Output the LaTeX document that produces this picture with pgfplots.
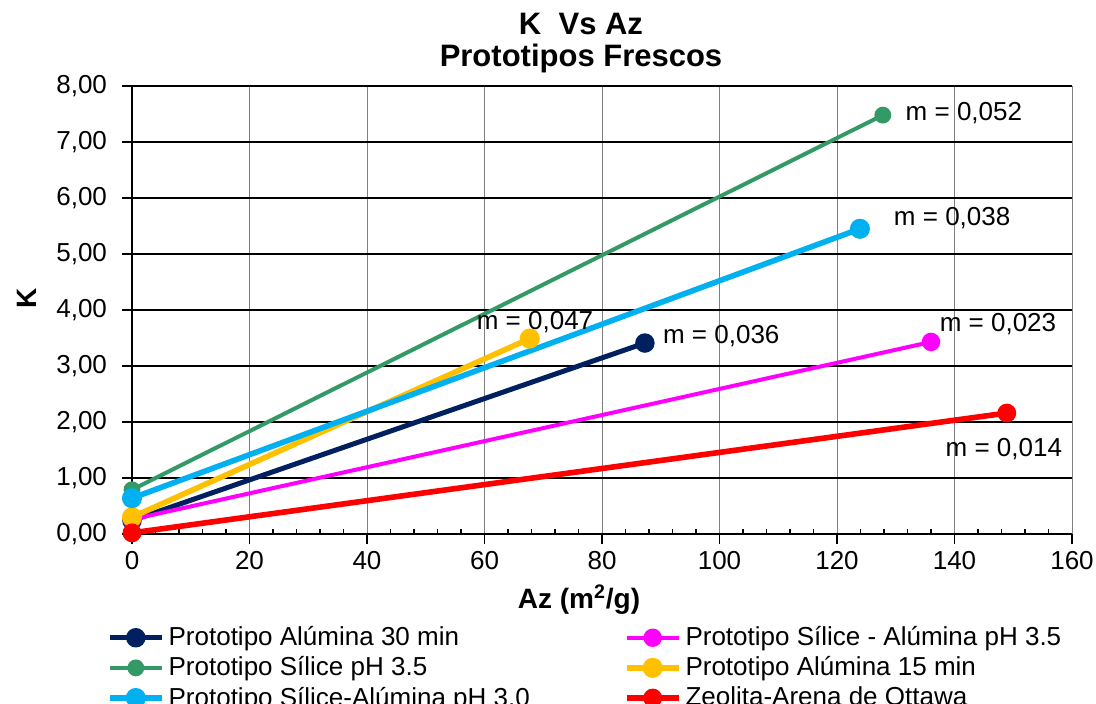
\documentclass[border=0pt]{standalone}
\usepackage{fontspec}
\setmainfont{Liberation Sans}
\usepackage{pgfplots}
\pgfplotsset{compat=1.18}
\definecolor{cnavy}{RGB}{0,32,96}
\definecolor{cgreen}{RGB}{51,153,102}
\definecolor{ccyan}{RGB}{0,176,240}
\definecolor{cyellow}{RGB}{255,192,0}
\definecolor{cmag}{RGB}{255,0,255}
\definecolor{cred}{RGB}{255,0,0}
\begin{document}
\begin{tikzpicture}
\path[use as bounding box] (-66pt,-84.5pt) rectangle (482pt,267pt);
\begin{axis}[
  at={(0pt,0pt)}, anchor=south west,
  scale only axis, width=470pt, height=224pt,
  xmin=0, xmax=160, ymin=0, ymax=8,
  xtick={0,20,...,160}, ytick={0,1,...,8},
  minor x tick num=4,
  axis lines=left,
  axis line style={-, line width=0.8pt},
  tick align=outside,
  xtick pos=bottom, ytick pos=left,
  major tick length=5pt,
  minor tick length=2.5pt,
  every tick/.style={black, line width=0.7pt},
  minor x tick style={yshift=2.5pt},
  xmajorgrids, ymajorgrids,
  major x grid style={gray, line width=0.5pt},
  major y grid style={black, line width=0.6pt},
  tick label style={font=\fontsize{13}{15}\selectfont},
  /pgf/number format/assume math mode=true,
  yticklabel style={xshift=-4pt, /pgf/number format/.cd, fixed, fixed zerofill, precision=2, use comma},
  xticklabel style={/pgf/number format/.cd, fixed, precision=0},
  xlabel={\bfseries Az (m\textsuperscript{2}/g)},
  xlabel style={at={(axis description cs:0.4755,-0.147)}, anchor=center, font=\fontsize{14}{16}\selectfont},
  ylabel={\bfseries K},
  ylabel style={at={(axis description cs:-0.112,0.527)}, anchor=center, font=\fontsize{14}{16}\selectfont},
  legend columns=2,
  legend style={at={(axis description cs:-0.027,-0.197)}, anchor=north west, draw=none, fill=none,
    font=\fontsize{13}{13.5}\selectfont, inner sep=0pt,
    /tikz/every even column/.append style={column sep=45pt}},
  legend cell align=left,
  legend image code/.code={\draw[mark repeat=2,mark phase=2,#1] plot coordinates {(0pt,0pt) (13pt,0pt) (26pt,0pt)};},
  every axis plot/.append style={mark=*, mark size=3.6pt},
  clip=false,
]
\addplot[cnavy, line width=2.5pt] coordinates {(0,0.24) (87.3,3.41)};
\addlegendentry{Prototipo Alúmina 30 min}
\addplot[cmag, line width=2pt] coordinates {(0,0.26) (136,3.43)};
\addlegendentry{Prototipo Sílice - Alúmina pH 3.5}
\addplot[cgreen, line width=2pt, mark size=3.2pt] coordinates {(0,0.79) (127.8,7.48)};
\addlegendentry{Prototipo Sílice pH 3.5}
\addplot[cyellow, line width=2.8pt] coordinates {(0,0.30) (67.7,3.49)};
\addlegendentry{Prototipo Alúmina 15 min}
\addplot[ccyan, line width=2.8pt] coordinates {(0,0.64) (123.9,5.45)};
\addlegendentry{Prototipo Sílice-Alúmina pH 3.0}
\addplot[cred, line width=2.8pt, mark size=3.3pt] coordinates {(0,0.02) (148.9,2.16)};
\addlegendentry{Zeolita-Arena de Ottawa}
\begin{scope}[every node/.style={font=\fontsize{13}{15}\selectfont, anchor=center}]
\node at (axis cs:141.6,7.52) {m = 0,052};
\node at (axis cs:139.6,5.64) {m = 0,038};
\node at (axis cs:68.6,3.79) {m = 0,047};
\node at (axis cs:100.3,3.54) {m = 0,036};
\node at (axis cs:147.4,3.75) {m = 0,023};
\node at (axis cs:148.4,1.52) {m = 0,014};
\end{scope}
\end{axis}
\node[align=center, font=\bfseries\fontsize{15.5}{16}\selectfont] at (224.5pt,245.5pt) {K\ \ Vs Az\\Prototipos Frescos};
\end{tikzpicture}
\end{document}
